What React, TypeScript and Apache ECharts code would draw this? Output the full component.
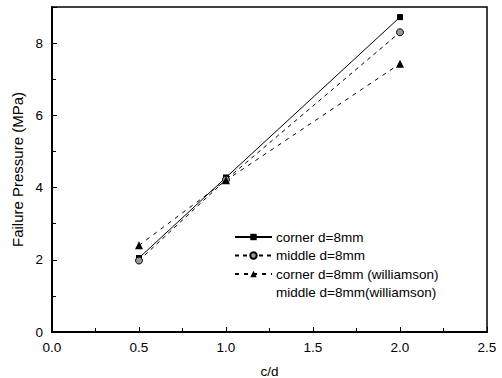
import React, { useEffect, useRef } from "react";
import * as echarts from "echarts";

const cdValues = [0.5, 1.0, 2.0];
const cornerValues = [2.05, 4.28, 8.72];
const middleValues = [1.98, 4.22, 8.3];
const cornerWilliamsonValues = [2.4, 4.2, 7.43];
const seriesNames = [
  "corner d=8mm",
  "middle d=8mm",
  "corner d=8mm (williamson)",
  "middle d=8mm(williamson)",
];
const xTicks = [0, 0.5, 1.0, 1.5, 2.0, 2.5];
const yTicks = [0, 2, 4, 6, 8];

const pairs = (ys: number[]) => cdValues.map((x, i) => [x, ys[i]]);

export default function App() {
  const ref = useRef<HTMLDivElement>(null);
  useEffect(() => {
    const chart = echarts.init(ref.current!, null, { renderer: "svg" });
    const font = "Liberation Sans";
    chart.setOption({
      animation: false,
      backgroundColor: "#fff",
      textStyle: { fontFamily: font },
      grid: {
        left: 52,
        right: 15,
        top: 7,
        bottom: 46,
        show: true,
        borderColor: "#000",
        borderWidth: 1.5,
        containLabel: false,
        outerBoundsMode: "none",
      },
      legend: {
        data: [
          seriesNames[0],
          seriesNames[1],
          seriesNames[2],
          { name: seriesNames[3], icon: "none" },
        ],
        orient: "vertical",
        left: 229,
        top: 225,
        itemWidth: 37,
        itemHeight: 8,
        itemGap: 4.5,
        textStyle: { fontFamily: font, fontSize: 13.5, color: "#000", padding: [0, 0, 0, -1] },
      },
      xAxis: {
        type: "value",
        min: xTicks[0],
        max: xTicks[xTicks.length - 1],
        interval: 0.5,
        name: "c/d",
        nameLocation: "middle",
        nameGap: 32,
        nameTextStyle: { fontFamily: font, fontSize: 13.5, color: "#000" },
        axisLine: { lineStyle: { color: "#000", width: 2 } },
        axisTick: { inside: true, length: 5, lineStyle: { color: "#000", width: 1 } },
        minorTick: { show: true, splitNumber: 2, length: 4, lineStyle: { color: "#000", width: 1 } },
        splitLine: { show: false },
        axisLabel: {
          color: "#000",
          fontFamily: font,
          fontSize: 13.5,
          margin: 8,
          formatter: (v: number) => v.toFixed(1),
        },
      },
      yAxis: {
        type: "value",
        min: 0,
        max: 9,
        interval: 2,
        name: "Failure Pressure (MPa)",
        nameLocation: "middle",
        nameGap: 25,
        nameTextStyle: { fontFamily: font, fontSize: 15, color: "#000" },
        axisLine: { lineStyle: { color: "#000", width: 2 } },
        axisTick: { inside: true, length: 5, lineStyle: { color: "#000", width: 1 } },
        minorTick: { show: true, splitNumber: 2, length: 4, lineStyle: { color: "#000", width: 1 } },
        splitLine: { show: false },
        axisLabel: {
          color: "#000",
          fontFamily: font,
          fontSize: 13.5,
          margin: 9,
          showMaxLabel: false,
          formatter: (v: number) => (yTicks.includes(v) ? String(v) : ""),
        },
      },
      series: [
        {
          name: seriesNames[0],
          type: "line",
          data: pairs(cornerValues),
          symbol: "rect",
          symbolSize: 6,
          itemStyle: { color: "#000" },
          lineStyle: { color: "#000", width: 1 },
        },
        {
          name: seriesNames[1],
          type: "line",
          data: pairs(middleValues),
          symbol: "circle",
          symbolSize: 7,
          itemStyle: { color: "#999", borderColor: "#000", borderWidth: 1 },
          lineStyle: { color: "#000", width: 1, type: [4, 4] },
        },
        {
          name: seriesNames[2],
          type: "line",
          data: pairs(cornerWilliamsonValues),
          symbol: "triangle",
          symbolSize: 8,
          itemStyle: { color: "#000" },
          lineStyle: { color: "#000", width: 1, type: [4, 5] },
        },
        {
          name: seriesNames[3],
          type: "line",
          data: [],
          symbol: "none",
          lineStyle: { color: "#000", width: 1, type: [4, 5] },
        },
      ],
    });
    return () => chart.dispose();
  }, []);
  return <div ref={ref} style={{ width: 502, height: 378, position: "absolute", left: 0, top: 0 }} />;
}
